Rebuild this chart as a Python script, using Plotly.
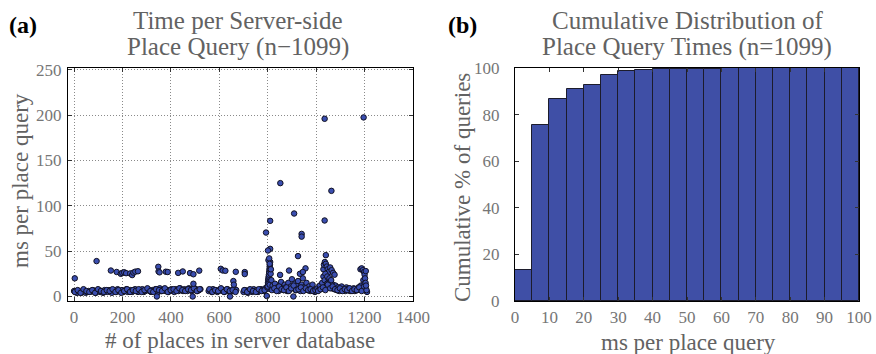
import plotly.graph_objects as go

# ---------------- data: left panel (scatter) ----------------
band_x = [0, 6, 12, 18, 24, 30, 36, 42, 48, 54, 60,
          66, 72, 78, 84, 90, 96, 102, 108, 114, 120, 126,
          132, 138, 144, 150, 156, 162, 168, 174, 180, 186, 192,
          198, 204, 210, 216, 222, 228, 234, 240, 246, 252, 258,
          264, 270, 276, 282, 288, 294, 300, 306, 312, 318, 324,
          330, 336, 342, 348, 354, 360, 366, 372, 378, 384, 390,
          396, 402, 408, 414, 420, 426, 432, 438, 444, 450, 456,
          462, 468, 474, 480, 486, 492, 498, 504, 510, 516, 522]
band_y = [6, 5, 4, 6, 5, 4, 5, 6, 4, 5, 6,
          5, 6, 7, 5, 4, 6, 7, 5, 6, 4, 7,
          6, 5, 7, 6, 4, 7, 6, 5, 8, 6, 5,
          7, 5, 6, 8, 5, 6, 7, 5, 6, 8, 6,
          5, 7, 6, 8, 5, 6, 7, 8, 6, 5, 7,
          6, 8, 7, 5, 9, 6, 7, 8, 6, 7, 5,
          7, 8, 6, 5, 8, 7, 6, 9, 7, 6, 8,
          7, 6, 9, 8, 6, 7, 9, 8, 6, 7, 8]

band2_x = [3, 15, 27, 39, 51, 63, 75, 87, 99, 111, 123, 135, 147, 159, 171,
           183, 195, 207, 219, 231, 243, 255, 267, 279, 291, 303, 315, 327,
           339, 351, 363, 375, 387, 399, 411, 423, 435, 447, 459, 471, 483,
           495, 507, 519]
band2_y = [5, 7, 4, 8, 6, 5, 7, 4, 8, 6, 5, 7, 6, 8, 5, 7, 4, 6, 8, 5, 7, 6,
           8, 5, 7, 9, 6, 5, 8, 7, 6, 9, 5, 7, 8, 6, 9, 7, 6, 8, 7, 9, 6, 8]

mid_x = [556, 562, 568, 574, 580, 586, 592, 598, 604, 610, 616, 622, 628, 634,
         640, 646, 652, 658, 664, 670,
         559, 571, 583, 595, 607, 619, 631, 643, 655, 667,
         700, 706, 712, 718, 724, 730, 736, 742, 748, 754, 760, 766, 772, 778,
         784, 790, 796,
         703, 715, 727, 739, 751, 763, 775, 787]
mid_y = [6, 7, 5, 8, 6, 7, 5, 6, 8, 7, 6, 5, 7, 8, 6, 5, 7, 6, 8, 7,
         8, 5, 7, 6, 9, 5, 8, 6, 7, 5,
         5, 7, 6, 4, 7, 6, 5, 8, 6, 7, 5, 6, 8, 7, 6, 9, 8,
         7, 5, 8, 6, 5, 8, 6, 7]

spike_x = [798, 800, 801, 802, 803, 804, 805, 806, 807, 808, 809, 810, 811,
           812, 806, 803, 800, 808, 803, 806, 808, 813]
spike_y = [10, 12, 15, 18, 20, 22, 24, 27, 30, 33, 35, 38, 29, 25, 16, 14,
           11, 13, 40, 42, 36, 30]

late_x = [815, 820, 825, 830, 835, 840, 845, 850, 855, 860, 865, 870, 875,
          880, 885, 890, 895, 900, 905, 910, 915, 920, 925, 930, 935, 940,
          945, 950, 955, 960, 965, 970, 975, 980, 985, 990, 995, 1000,
          817, 827, 837, 847, 857, 867, 877, 887, 897, 907, 917, 927, 937,
          947, 957, 967, 977, 987, 997,
          1005, 1010, 1015, 1020, 1025, 1030, 1035, 1040, 1045, 1050, 1055,
          1060, 1065, 1070, 1075, 1080, 1085, 1090, 1095, 1100, 1105, 1110,
          1115, 1120, 1125, 1130, 1135, 1140, 1145, 1150, 1155, 1160, 1165,
          1170, 1175, 1180, 1185, 1190, 1195, 1200, 1205, 1210,
          1008, 1018, 1028, 1038, 1048, 1058, 1068, 1078, 1088, 1098, 1108,
          1118, 1128, 1138, 1148, 1158, 1168, 1178, 1188, 1198, 1208]
late_y = [18, 12, 8, 14, 7, 10, 6, 12, 16, 9, 7, 13, 10, 6, 15, 8, 11, 19,
          9, 14, 7, 12, 17, 9, 6, 13, 20, 10, 8, 15, 7, 11, 6, 9, 13, 7, 5, 8,
          7, 9, 6, 11, 8, 7, 10, 6, 9, 12, 7, 8, 10, 6, 9, 7, 8, 6, 7,
          9, 7, 12, 8, 15, 22, 18, 28, 14, 20, 11, 17, 9, 13, 8, 12, 7, 10,
          6, 9, 11, 7, 8, 6, 10, 7, 9, 6, 8, 7, 9, 6, 8, 7, 10, 8, 12, 9,
          18, 14, 8, 5,
          6, 8, 10, 7, 13, 9, 11, 8, 7, 9, 6, 8, 7, 9, 6, 8, 7, 10, 6, 11, 7]

outlier_x = [3, 93, 152, 176, 193, 199, 207, 215, 232, 240, 245, 253, 264,
             348, 349, 353, 379, 387, 430, 449, 479, 493, 517, 493,
             342, 490, 644, 796, 906,
             606, 614, 625, 668, 705, 705, 658, 660,
             1035, 1196, 852, 1063, 909, 810, 1035, 793, 940, 940, 810, 801,
             925, 1040, 888, 851, 956, 933, 945,
             1030, 1032, 1036, 1040, 1044, 1048, 1052, 1058, 1064, 1070, 1076,
             1038, 1046, 1055, 1062,
             1183, 1188, 1193, 1198, 1200, 1202, 1204, 1206, 1205]
outlier_y = [20, 39, 28.6, 27, 25, 26, 26.7, 25.7, 25.4, 23.6, 26.3, 27.4, 27.8,
             32.7, 27.6, 26.6, 27.3, 27, 26, 27.6, 25.8, 24.5, 28.5, 14,
             0, 0, 0, 0.5, 0,
             30.5, 28.7, 28.3, 27.2, 26.9, 24.7, 17, 13,
             196, 197.5, 125, 116.5, 91.5, 83.4, 83.8, 70.5, 69, 66, 52.5, 50.7,
             44.5, 45.6, 28.6, 23.8, 31, 25, 27,
             30, 35, 38, 36, 33, 30, 27, 32, 29, 26, 24,
             25, 22, 20, 18,
             30, 31, 29, 27, 24, 20, 15, 12, 28]

places = band_x + band2_x + mid_x + spike_x + late_x + outlier_x
ms_per_query = band_y + band2_y + mid_y + spike_y + late_y + outlier_y

# ---------------- data: right panel (cumulative histogram) ----------------
bin_centers = [2.5, 7.5, 12.5, 17.5, 22.5, 27.5, 32.5, 37.5, 42.5, 47.5,
               52.5, 57.5, 62.5, 67.5, 72.5, 77.5, 82.5, 87.5, 92.5, 97.5]
cum_percent = [13.3, 75.5, 86.8, 90.8, 92.5, 97.0, 98.7, 99.3, 99.5, 99.6,
               99.7, 99.7, 99.8, 99.8, 99.8, 99.9, 99.9, 99.9, 100, 100]

left_xticks = [0, 200, 400, 600, 800, 1000, 1200, 1400]
left_yticks = [0, 50, 100, 150, 200, 250]
right_xticks = [0, 10, 20, 30, 40, 50, 60, 70, 80, 90, 100]
right_yticks = [0, 20, 40, 60, 80, 100]

# ---------------- figure ----------------
W, H = 876, 354
PL, PR, PT, PB = 68, 859, 68, 301   # pixel bounds of plotting region


def px(xp):
    return (xp - PL) / (PR - PL)


def py(yp):
    return (PB - yp) / (PB - PT)


SERIF = "Liberation Serif"
GRAY = "#626262"
TICKGRAY = "#767676"

fig = go.Figure()
fig.add_trace(go.Scatter(
    x=places, y=ms_per_query, mode="markers",
    marker=dict(size=5.5, color="#3a4eb0", line=dict(color="#111122", width=1)),
    xaxis="x", yaxis="y", showlegend=False, hoverinfo="skip"))

fig.add_trace(go.Bar(
    x=bin_centers, y=cum_percent, width=5,
    marker=dict(color="#3f4fa6", line=dict(color="#1c1c2c", width=1)),
    xaxis="x2", yaxis="y2", showlegend=False, hoverinfo="skip"))

axis_common = dict(showline=True, linecolor="black", linewidth=1, mirror="ticks",
                   ticks="inside", ticklen=4, tickcolor="#333", zeroline=False,
                   automargin=False,
                   tickfont=dict(family=SERIF, size=17, color=TICKGRAY))
grid = dict(showgrid=True, gridcolor="#8a8a8a", griddash="1px,2px", gridwidth=1)

fig.update_layout(
    template="none",
    width=W, height=H,
    margin=dict(l=PL, r=W - PR, t=PT, b=H - PB, autoexpand=False),
    paper_bgcolor="white", plot_bgcolor="white",
    bargap=0,
    xaxis=dict(domain=[0, px(413)], range=[-25, 1400], tickvals=left_xticks,
               anchor="y", ticklabelstandoff=1, **grid, **axis_common),
    yaxis=dict(domain=[0, 1], range=[-5, 252], tickvals=left_yticks,
               anchor="x", ticklabelstandoff=2, **grid, **axis_common),
    xaxis2=dict(domain=[px(515), 1], range=[0, 100], tickvals=right_xticks,
                showgrid=False, anchor="y2", ticklabelstandoff=1, **axis_common),
    yaxis2=dict(domain=[0, 1], range=[0, 100], tickvals=right_yticks,
                showgrid=False, anchor="x2", ticklabelstandoff=11, **axis_common),
)

ann = []
# panel letters
ann.append(dict(text="<b>(a)</b>", x=px(23), y=py(25), font=dict(family=SERIF, size=24, color="black")))
ann.append(dict(text="<b>(b)</b>", x=px(462), y=py(25), font=dict(family=SERIF, size=24, color="black")))
# titles
TS = 25
ann.append(dict(text="Time per Server-side", x=px(238), y=py(21), font=dict(family=SERIF, size=TS, color=GRAY)))
ann.append(dict(text="Place Query (n\u22121099)", x=px(238), y=py(47), font=dict(family=SERIF, size=TS, color=GRAY)))
ann.append(dict(text="Cumulative Distribution of", x=px(687), y=py(21), font=dict(family=SERIF, size=TS, color=GRAY)))
ann.append(dict(text="Place Query Times (n=1099)", x=px(687), y=py(47), font=dict(family=SERIF, size=TS, color=GRAY)))
# axis titles
LS = 23
ann.append(dict(text="# of places in server database", x=px(240), y=py(340), font=dict(family=SERIF, size=LS, color=GRAY)))
ann.append(dict(text="ms per place query", x=px(688), y=py(342), font=dict(family=SERIF, size=LS, color=GRAY)))
ann.append(dict(text="ms per place query", x=px(20), y=py(181), textangle=-90, font=dict(family=SERIF, size=LS, color=GRAY)))
ann.append(dict(text="Cumulative % of queries", x=px(462), y=py(188), textangle=-90, font=dict(family=SERIF, size=LS, color=GRAY)))

for a in ann:
    a.update(xref="paper", yref="paper", showarrow=False, xanchor="center", yanchor="middle")
fig.update_layout(annotations=ann)

fig.write_html("out.html", config={"displayModeBar": False},
               post_script="document.body.style.margin='0';document.body.style.overflow='hidden';")
